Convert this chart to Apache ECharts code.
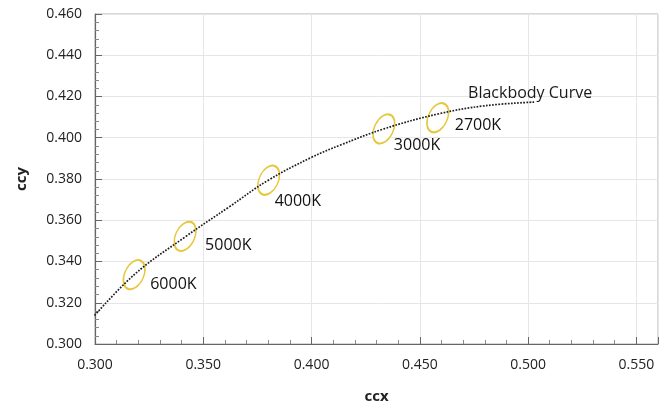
<!DOCTYPE html>
<html>
<head>
<meta charset="utf-8">
<script src="https://cdn.jsdelivr.net/npm/echarts@6/dist/echarts.min.js"></script>
<style>
html,body{margin:0;padding:0;background:#fff;}
#chart{width:672px;height:405px;}
</style>
</head>
<body>
<div id="chart"></div>
<script>
// Blackbody curve (chromaticity coordinates)
const curveX = [0.297, 0.318, 0.3416, 0.362, 0.380, 0.400, 0.4132, 0.4334, 0.4583, 0.480, 0.5028];
const curveY = [0.3105, 0.3335, 0.3519, 0.3665, 0.3794, 0.3905, 0.3964, 0.4043, 0.4115, 0.4155, 0.4173];
const curveName = 'Blackbody Curve';

// Colour-temperature markers
const tempNames = ['6000K', '5000K', '4000K', '3000K', '2700K'];
const tempX = [0.3181, 0.3416, 0.3802, 0.4334, 0.4583];
const tempY = [0.3336, 0.3522, 0.3794, 0.4043, 0.4097];

// Axis ticks
const xTicks = [0.300, 0.350, 0.400, 0.450, 0.500, 0.550];
const yTicks = [0.300, 0.320, 0.340, 0.360, 0.380, 0.400, 0.420, 0.440, 0.460];

// label placement (style only)
const labelOffsets = [[16, 10], [20, 9], [6, 21], [10, 17], [17, 8]];

const FONT = '"Open Sans", "Noto Sans", sans-serif';
const chart = echarts.init(document.getElementById('chart'), null, {renderer: 'canvas'});

const option = {
  backgroundColor: '#ffffff',
  animation: false,
  grid: {
    left: 95, right: 14, top: 14, bottom: 61,
    containLabel: false, outerBoundsMode: 'none',
    show: true, borderColor: '#b0b0b0', borderWidth: 1, backgroundColor: 'transparent'
  },
  xAxis: {
    type: 'value',
    min: xTicks[0], max: 0.56, interval: 0.05,
    name: 'ccx', nameLocation: 'middle', nameGap: 45,
    nameTextStyle: {fontFamily: FONT, fontSize: 15, fontWeight: 'bold', color: '#222'},
    axisLine: {show: true, onZero: false, lineStyle: {color: '#666', width: 1.2}},
    axisTick: {show: true, inside: true, length: 7, lineStyle: {color: '#666'}},
    minorTick: {show: true, splitNumber: 5, length: 4, lineStyle: {color: '#888'}},
    axisLabel: {
      fontFamily: FONT, fontSize: 14, color: '#222', margin: 14,
      showMaxLabel: false,
      formatter: v => v.toFixed(3)
    },
    splitLine: {show: true, lineStyle: {color: '#e6e6e6', width: 1}}
  },
  yAxis: {
    type: 'value',
    min: yTicks[0], max: yTicks[yTicks.length - 1], interval: 0.02,
    name: 'ccy', nameLocation: 'middle', nameGap: 66,
    nameTextStyle: {fontFamily: FONT, fontSize: 15, fontWeight: 'bold', color: '#222'},
    axisLine: {show: true, onZero: false, lineStyle: {color: '#666', width: 1.2}},
    axisTick: {show: true, inside: true, length: 7, lineStyle: {color: '#666'}},
    minorTick: {show: true, splitNumber: 5, length: 4, lineStyle: {color: '#888'}},
    axisLabel: {
      fontFamily: FONT, fontSize: 14, color: '#222', margin: 13,
      formatter: v => v.toFixed(3)
    },
    splitLine: {show: true, lineStyle: {color: '#e6e6e6', width: 1}}
  },
  series: [
    {
      name: curveName,
      type: 'line',
      data: curveX.map((x, i) => [x, curveY[i]]),
      smooth: 0.4,
      showSymbol: false,
      clip: false,
      lineStyle: {color: '#1e1e1e', width: 1.7, type: [1.7, 1.4]},
      endLabel: {
        show: true,
        formatter: curveName,
        fontFamily: FONT, fontSize: 16, color: '#1a1a1a',
        distance: 0, align: 'center', verticalAlign: 'middle',
        offset: [-4, -9]
      },
      z: 3
    },
    {
      name: 'Colour temperature',
      type: 'scatter',
      data: tempX.map((x, i) => ({
        name: tempNames[i],
        value: [x, tempY[i]],
        label: {offset: labelOffsets[i]}
      })),
      symbol: 'circle',
      symbolSize: [19, 31],
      symbolRotate: -25,
      itemStyle: {color: '#ffffff', opacity: 1, borderColor: '#e6c73a', borderWidth: 1.7},
      label: {
        show: true,
        position: 'inside',
        align: 'left',
        verticalAlign: 'middle',
        formatter: p => p.name,
        fontFamily: FONT, fontSize: 16, color: '#111',
        textBorderWidth: 0, textBorderColor: 'transparent'
      },
      z: 2
    }
  ]
};
chart.setOption(option);
</script>
</body>
</html>
